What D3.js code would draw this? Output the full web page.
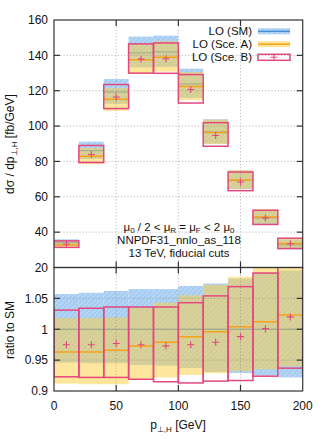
<!DOCTYPE html>
<html>
<head>
<meta charset="utf-8">
<script src="https://cdn.jsdelivr.net/npm/d3@7"></script>
<style>
  body { margin: 0; background: #fff; }
  svg { font-family: "Liberation Sans", Arial, sans-serif; }
</style>
</head>
<body>
<svg id="chart" width="322" height="444"></svg>
<script>
// bins (lower edges, GeV)
const binLo = [0, 20, 40, 60, 80, 100, 120, 140, 160, 180];
const binW = 20;
// LO SM central value [fb/GeV]
const smCentral = [34.0, 86.1, 119.2, 141.4, 141.9, 123.8, 96.7, 69.2, 48.0, 32.8];
// everything below is ratio to SM central
const smLo = [0.946, 0.945, 0.945, 0.942, 0.941, 0.937, 0.931, 0.929, 0.925, 0.922];
const smHi = [1.057, 1.059, 1.062, 1.065, 1.065, 1.070, 1.074, 1.082, 1.092, 1.095];
const aCen = [0.963, 0.963, 0.966, 0.973, 0.979, 0.988, 0.996, 1.004, 1.012, 1.023];
const aLo  = [0.912, 0.911, 0.911, 0.918, 0.922, 0.926, 0.929, 0.932, 0.935, 0.940];
const aHi  = [1.018, 1.018, 1.019, 1.035, 1.043, 1.055, 1.072, 1.085, 1.105, 1.110];
const bCen = [0.975, 0.975, 0.977, 0.975, 0.973, 0.975, 0.979, 0.988, 1.001, 1.020];
const bLo  = [0.923, 0.922, 0.922, 0.919, 0.915, 0.913, 0.916, 0.917, 0.924, 0.937];
const bHi  = [1.031, 1.034, 1.036, 1.036, 1.036, 1.043, 1.054, 1.069, 1.091, 1.115];

const xTicks = [0, 50, 100, 150, 200];
const yTicksTop = [20, 40, 60, 80, 100, 120, 140, 160];
const yTicksRatio = [0.9, 0.95, 1, 1.05];
const legendLabels = ["LO (SM)", "LO (Sce. A)", "LO (Sce. B)"];

const svg = d3.select("#chart");
const left = 54, right = 302.7;
const x = d3.scaleLinear().domain([0, 200]).range([left, right]);
const yTop = d3.scaleLinear().domain([20, 160]).range([267.5, 20]);
const yRat = d3.scaleLinear().domain([0.9, 1.1]).range([391, 267.5]);

const defs = svg.append("defs");
const hatch = defs.append("pattern")
    .attr("id", "hatch")
    .attr("patternUnits", "userSpaceOnUse")
    .attr("width", 5).attr("height", 5);
hatch.append("path")
    .attr("d", "M-1,6 L6,-1 M-1,1 L1,-1 M4,6 L6,4")
    .attr("stroke", "#ffffff").attr("stroke-opacity", 0.45).attr("stroke-width", 0.7);

function clip(id, y0, y1) {
    defs.append("clipPath").attr("id", id)
        .append("rect").attr("x", left).attr("y", y0)
        .attr("width", right - left).attr("height", y1 - y0);
}
clip("clipTop", yTop.range()[1], yTop.range()[0]);
clip("clipRat", yRat.range()[1], yRat.range()[0]);

const BLUE = "#a7cdf2", BLUE_LINE = "#3a86d8", YEL = "rgb(255,206,60)",
      ORANGE = "#f7a21b", PINK = "#e2487e";

function drawPanel(y, scale, clipId) {
    const g = svg.append("g").attr("clip-path", `url(#${clipId})`);
    binLo.forEach((b, i) => {
        const x0 = x(b), x1 = x(b + binW);
        const s = scale(i);
        g.append("rect").attr("x", x0).attr("width", x1 - x0)
            .attr("y", y(smHi[i] * s)).attr("height", y(smLo[i] * s) - y(smHi[i] * s))
            .attr("fill", BLUE);
        g.append("rect").attr("x", x0).attr("width", x1 - x0)
            .attr("y", y(smHi[i] * s)).attr("height", y(smLo[i] * s) - y(smHi[i] * s))
            .attr("fill", "url(#hatch)");
        g.append("line").attr("x1", x0).attr("x2", x1)
            .attr("y1", y(s)).attr("y2", y(s))
            .attr("stroke", BLUE_LINE).attr("stroke-width", 1);
        g.append("rect").attr("x", x0).attr("width", x1 - x0)
            .attr("y", y(aHi[i] * s)).attr("height", y(aLo[i] * s) - y(aHi[i] * s))
            .attr("fill", YEL).attr("fill-opacity", 0.5);
        g.append("line").attr("x1", x0).attr("x2", x1)
            .attr("y1", y(aCen[i] * s)).attr("y2", y(aCen[i] * s))
            .attr("stroke", ORANGE).attr("stroke-width", 1.5);
    });
    // grid in front
    const grid = svg.append("g").attr("stroke", "#777").attr("stroke-width", 0.8)
        .attr("stroke-dasharray", "1,2.2").attr("opacity", 0.7);
    const [yb, yt] = y.range();
    [50, 100, 150].forEach(v => {
        grid.append("line").attr("x1", x(v)).attr("x2", x(v)).attr("y1", yb).attr("y2", yt);
    });
    const yt2 = (y === yTop) ? yTicksTop.slice(1, -1) : yTicksRatio.slice(1);
    yt2.forEach(v => {
        grid.append("line").attr("x1", left).attr("x2", right).attr("y1", y(v)).attr("y2", y(v));
    });
    const g2 = svg.append("g").attr("clip-path", `url(#${clipId})`);
    binLo.forEach((b, i) => {
        const x0 = x(b), x1 = x(b + binW);
        const s = scale(i);
        g2.append("rect").attr("x", x0).attr("width", x1 - x0)
            .attr("y", y(bHi[i] * s)).attr("height", y(bLo[i] * s) - y(bHi[i] * s))
            .attr("fill", "none").attr("stroke", PINK).attr("stroke-width", 1.5);
        const cx = x(b + binW / 2), cy = y(bCen[i] * s);
        g2.append("path")
            .attr("d", `M${cx - 3.5},${cy}H${cx + 3.5}M${cx},${cy - 3.5}V${cy + 3.5}`)
            .attr("stroke", PINK).attr("stroke-width", 1.1);
    });
}

drawPanel(yTop, i => smCentral[i], "clipTop");
drawPanel(yRat, i => 1, "clipRat");

// frames + ticks
function frame(y, ticks) {
    const [yb, yt] = y.range();
    const f = svg.append("g").attr("stroke", "#333").attr("stroke-width", 1.2).attr("fill", "none");
    f.append("rect").attr("x", left).attr("y", yt).attr("width", right - left).attr("height", yb - yt);
    xTicks.slice(1, -1).forEach(v => {
        f.append("line").attr("x1", x(v)).attr("x2", x(v)).attr("y1", yb).attr("y2", yb - 6);
        f.append("line").attr("x1", x(v)).attr("x2", x(v)).attr("y1", yt).attr("y2", yt + 6);
    });
    ticks.forEach(v => {
        f.append("line").attr("x1", left).attr("x2", left + 6).attr("y1", y(v)).attr("y2", y(v));
        f.append("line").attr("x1", right).attr("x2", right - 6).attr("y1", y(v)).attr("y2", y(v));
    });
}
frame(yTop, yTicksTop.slice(1, -1));
frame(yRat, yTicksRatio.slice(1));

const txt = svg.append("g").attr("font-size", 12).attr("fill", "#111");
yTicksTop.forEach(v => {
    txt.append("text").attr("x", 48).attr("y", yTop(v) + 4.3).attr("text-anchor", "end").text(v);
});
yTicksRatio.forEach(v => {
    txt.append("text").attr("x", 48).attr("y", yRat(v) + 4.3).attr("text-anchor", "end").text(v);
});
xTicks.forEach(v => {
    txt.append("text").attr("x", x(v)).attr("y", 410).attr("text-anchor", "middle").text(v);
});

function subText(parent, parts, dy) {
    parts.forEach(p => {
        const t = parent.append("tspan").text(p[0]);
        if (p[1]) t.attr("font-size", 8).attr("dy", dy);
        if (p[2]) t.attr("dy", -dy);
    });
}

const xl = txt.append("text").attr("x", 178).attr("y", 429).attr("text-anchor", "middle");
subText(xl, [["p"], ["⊥,H", true], [" [GeV]", false, true]], 3);

const yl = txt.append("text").attr("transform", "translate(14,144) rotate(-90)").attr("text-anchor", "middle");
subText(yl, [["dσ / dp"], ["⊥,H", true], [" [fb/GeV]", false, true]], 3);

txt.append("text").attr("transform", "translate(14,330) rotate(-90)").attr("text-anchor", "middle")
    .text("ratio to SM");

const ann = txt.append("g").attr("font-size", 11.5);
const a1 = ann.append("text").attr("x", 179).attr("y", 230.5).attr("text-anchor", "middle");
subText(a1, [["μ"], ["0", true], [" / 2 < μ", false, true], ["R", true], [" = μ", false, true],
    ["F", true], [" < 2 μ", false, true], ["0", true]], 2);
ann.append("text").attr("x", 179).attr("y", 244).attr("text-anchor", "middle").text("NNPDF31_nnlo_as_118");
ann.append("text").attr("x", 179).attr("y", 256.5).attr("text-anchor", "middle").text("13 TeV, fiducial cuts");

// legend
const legY = [31.3, 44.2, 57.3];
const lx0 = 258, lx1 = 290;
const legTxt = txt.append("g").attr("font-size", 11.5);
legendLabels.forEach((l, i) => {
    legTxt.append("text").attr("x", 252).attr("y", legY[i] + 4).attr("text-anchor", "end").text(l);
});
const lg = svg.append("g");
lg.append("rect").attr("x", lx0).attr("y", legY[0] - 3).attr("width", lx1 - lx0).attr("height", 6).attr("fill", BLUE);
lg.append("rect").attr("x", lx0).attr("y", legY[0] - 3).attr("width", lx1 - lx0).attr("height", 6).attr("fill", "url(#hatch)");
lg.append("line").attr("x1", lx0).attr("x2", lx1).attr("y1", legY[0]).attr("y2", legY[0]).attr("stroke", BLUE_LINE).attr("stroke-width", 1.2);
lg.append("rect").attr("x", lx0).attr("y", legY[1] - 3).attr("width", lx1 - lx0).attr("height", 6).attr("fill", YEL).attr("fill-opacity", 0.5);
lg.append("line").attr("x1", lx0).attr("x2", lx1).attr("y1", legY[1]).attr("y2", legY[1]).attr("stroke", ORANGE).attr("stroke-width", 1.5);
lg.append("rect").attr("x", lx0).attr("y", legY[2] - 3).attr("width", lx1 - lx0).attr("height", 6)
    .attr("fill", "none").attr("stroke", PINK).attr("stroke-width", 1.5);
const lcx = (lx0 + lx1) / 2;
lg.append("path").attr("d", `M${lcx - 3.5},${legY[2]}H${lcx + 3.5}M${lcx},${legY[2] - 3.5}V${legY[2] + 3.5}`)
    .attr("stroke", PINK).attr("stroke-width", 1.1);
</script>
</body>
</html>
